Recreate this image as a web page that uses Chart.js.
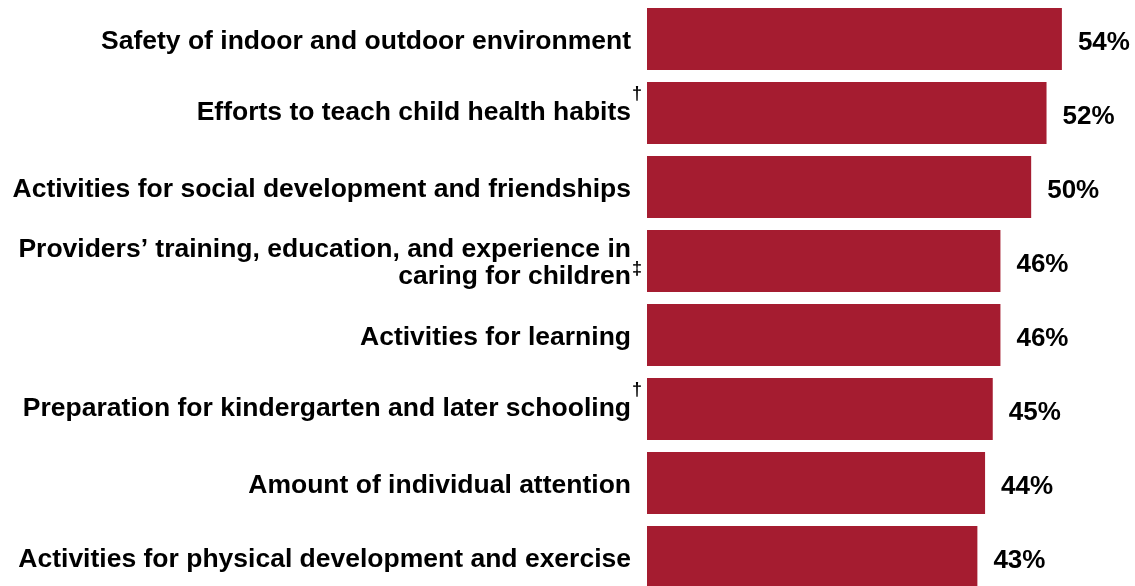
<!DOCTYPE html>
<html>
<head>
<meta charset="utf-8">
<script src="https://cdn.jsdelivr.net/npm/chart.js@4.4.1/dist/chart.umd.min.js"></script>
<style>
  html, body { margin: 0; padding: 0; background: #ffffff; overflow: hidden; }
  #wrap { position: relative; width: 1135px; height: 596px; }
</style>
</head>
<body>
<div id="wrap"><canvas id="chart"></canvas></div>
<script>
// Category labels (multi-line labels are arrays of lines)
const categories = [
  'Safety of indoor and outdoor environment',
  'Efforts to teach child health habits',
  'Activities for social development and friendships',
  ['Providers\u2019 training, education, and experience in', 'caring for children'],
  'Activities for learning',
  'Preparation for kindergarten and later schooling',
  'Amount of individual attention',
  'Activities for physical development and exercise'
];
// Footnote marks shown after each label
const footnotes = ['', '\u2020', '', '\u2021', '', '\u2020', '', ''];
// Percent of parents rating each item
const values = [54, 52, 50, 46, 46, 45, 44, 43];

const BAR_COLOR = '#A51C30';
const FONT = 'Arial, "Liberation Sans", Helvetica, sans-serif';

const labelPlugin = {
  id: 'sideLabels',
  afterDatasetsDraw(chart) {
    const ctx = chart.ctx;
    const yScale = chart.scales.y;
    const meta = chart.getDatasetMeta(0);
    ctx.save();
    ctx.fillStyle = '#000000';
    categories.forEach((cat, i) => {
      const cy = yScale.getPixelForValue(i);
      const lines = Array.isArray(cat) ? cat : [cat];
      const n = lines.length;
      const hasNote = !!footnotes[i];
      ctx.font = 'bold 26.5px ' + FONT;
      ctx.textAlign = 'right';
      ctx.textBaseline = 'alphabetic';
      // single labels with a raised mark sit a little higher
      const shift = (hasNote && n === 1) ? 6.5 : 9.5;
      let lastBase = cy;
      lines.forEach((ln, j) => {
        const base = cy + shift + (j - (n - 1) / 2) * 27;
        ctx.fillText(ln, 631, base);
        lastBase = base;
      });
      if (hasNote) {
        ctx.font = 'bold 18px ' + FONT;
        ctx.textAlign = 'left';
        const supBase = n > 1 ? lastBase - 10 : lastBase - 21;
        ctx.fillText(footnotes[i], 632, supBase);
      }
      // value label to the right of the bar
      const bar = meta.data[i];
      ctx.font = 'bold 26px ' + FONT;
      ctx.textAlign = 'left';
      ctx.fillText(values[i] + '%', bar.x + 16, cy + 11);
    });
    ctx.restore();
  }
};

new Chart(document.getElementById('chart'), {
  type: 'bar',
  data: {
    labels: categories,
    datasets: [{
      data: values,
      backgroundColor: BAR_COLOR,
      borderWidth: 0,
      barPercentage: 0.838,
      categoryPercentage: 1.0
    }]
  },
  options: {
    indexAxis: 'y',
    responsive: true,
    maintainAspectRatio: false,
    animation: false,
    layout: { padding: { left: 647, right: 27, top: 2, bottom: 2 } },
    plugins: { legend: { display: false }, tooltip: { enabled: false } },
    scales: {
      x: { display: false, min: 0, max: 60 },
      y: { display: false }
    }
  },
  plugins: [labelPlugin]
});
</script>
</body>
</html>
